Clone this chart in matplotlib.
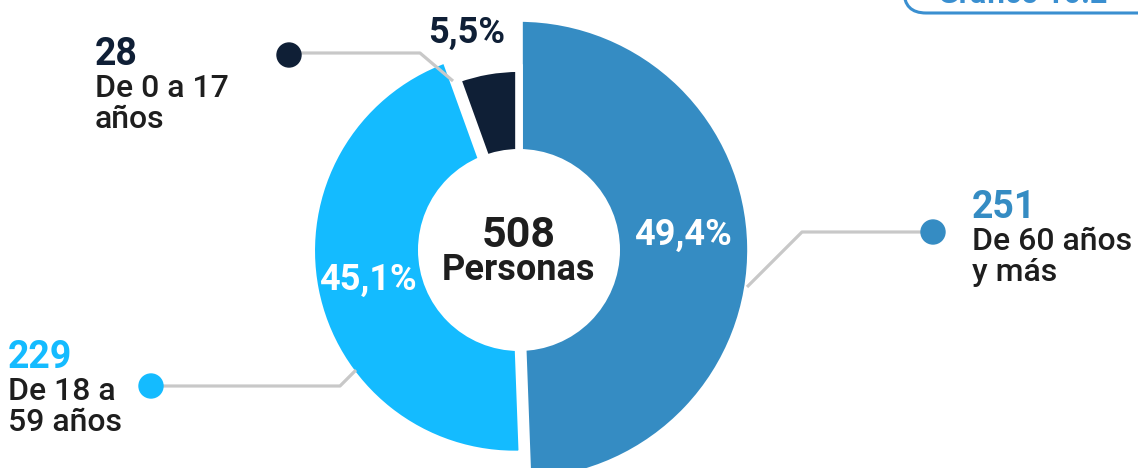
import matplotlib
matplotlib.use('Agg')
import matplotlib.pyplot as plt
from matplotlib.patches import Circle, FancyBboxPatch

# datos
grupos = ["De 60 años\ny más", "De 18 a\n59 años", "De 0 a 17\naños"]
personas = [251, 229, 28]
porcentajes = ["49,4%", "45,1%", "5,5%"]
total = 508

colores = ["#358CC3", "#14BBFF", "#0F1F36"]
gris = "#C8C8C8"
texto = "#1E1E1E"

plt.rcParams['font.family'] = ['Roboto', 'DejaVu Sans']

W, H = 1138, 468
fig = plt.figure(figsize=(W / 100, H / 100), dpi=100)

# pie axes: 1 data unit = 232 px, centre at (519, 218) px (y upwards)
esc = 232.0
cx, cy = 519, 218
axp = fig.add_axes([0, 0, 1, 1])
wedges, _ = axp.pie(personas, colors=colores, startangle=90, counterclock=False,
                    radius=1.0, explode=[0, 0.018, 0],
                    wedgeprops=dict(edgecolor='white', linewidth=5.5))
wedges[1].set_radius(0.878)
wedges[2].set_radius(0.784)
axp.add_patch(Circle((0, 0), 101 / esc, facecolor='white', edgecolor='none', zorder=5))
axp.set_xlim(-cx / esc, (W - cx) / esc)
axp.set_ylim(-cy / esc, (H - cy) / esc)
axp.set_aspect('equal')
axp.axis('off')

# overlay in pixel coords (y up)
ax = fig.add_axes([0, 0, 1, 1])
ax.set_xlim(0, W)
ax.set_ylim(0, H)
ax.axis('off')
ax.patch.set_alpha(0)


def Y(y):
    return H - y


# leader lines
lw = 2.3
ax.plot([289, 420, 453], [Y(53), Y(53), Y(81)], color=gris, lw=lw, solid_capstyle='butt')
ax.plot([151, 340, 356], [Y(386), Y(386), Y(370)], color=gris, lw=lw, solid_capstyle='butt')
ax.plot([933, 802, 747], [Y(232), Y(232), Y(287)], color=gris, lw=lw, solid_capstyle='butt')

# dots
ax.add_patch(Circle((289, Y(55)), 12, color=colores[2], zorder=3))
ax.add_patch(Circle((151, Y(386)), 12, color=colores[1], zorder=3))
ax.add_patch(Circle((933, Y(232)), 12, color=colores[0], zorder=3))

# centre
ax.text(cx, Y(247), str(total), ha='center', va='baseline', fontsize=31,
        fontweight='bold', color=texto)
ax.text(cx, Y(280), "Personas", ha='center', va='baseline', fontsize=26,
        fontweight='bold', color=texto)

# percentages
ax.text(683, Y(245), porcentajes[0], ha='center', va='baseline', fontsize=26,
        fontweight='bold', color='white')
ax.text(368, Y(290), porcentajes[1], ha='center', va='baseline', fontsize=26,
        fontweight='bold', color='white')
ax.text(467, Y(43), porcentajes[2], ha='center', va='baseline', fontsize=26,
        fontweight='bold', color=colores[2])

# labels
etiquetas = [(972, 218, 0), (8, 368, 1), (95, 65, 2)]
for x, yb, i in etiquetas:
    ax.text(x, Y(yb), str(personas[i]), ha='left', va='baseline', fontsize=27,
            fontweight='bold', color=colores[i])
    for k, linea in enumerate(grupos[i].split("\n")):
        ax.text(x, Y(yb + 32 + 31 * k), linea, ha='left', va='baseline', fontsize=23,
                fontweight='medium', color=texto)

# caja "Gráfico" cortada arriba a la derecha
ax.add_patch(FancyBboxPatch((904, Y(13)), 260, 60, boxstyle="round,pad=0,rounding_size=22",
                            facecolor='white', edgecolor='#3A8FD0', lw=2.2, zorder=4))
ax.text(1023, Y(3), "Gráfico 10.2", ha='center', va='baseline', fontsize=22,
        fontweight='bold', color='#3A8FD0', zorder=5)

fig.savefig("out.png", dpi=100)
